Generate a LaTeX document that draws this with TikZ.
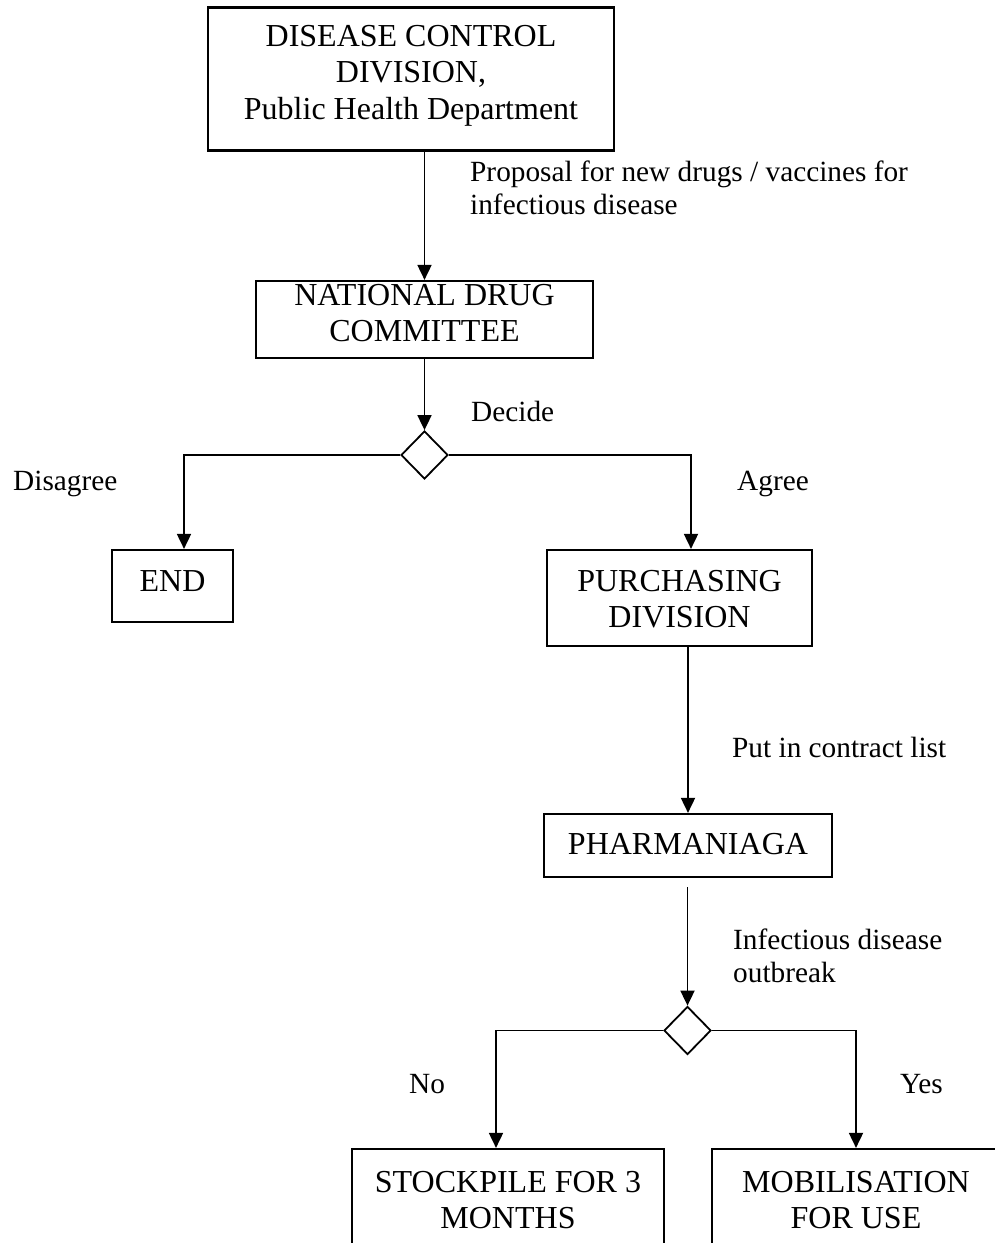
\documentclass[tikz,border=0pt]{standalone}
\usepackage{fontspec}
\setmainfont{Liberation Serif}
\usetikzlibrary{arrows.meta,shapes.geometric}
\tikzset{
  box/.style={draw, line width=2.2pt, rectangle, inner sep=0pt},
  boxtext/.style={font=\fontsize{32}{36.5}\selectfont, align=center, inner sep=0pt},
  lbl/.style={font=\fontsize{29.3}{33.5}\selectfont, align=left, anchor=west, inner sep=0pt},
  dec/.style={draw, line width=1.8pt, diamond, aspect=1, inner sep=0pt, minimum width=47pt, minimum height=48pt},
  conn/.style={line width=1.8pt},
  arr/.style={line width=1.8pt, -{Triangle[length=15pt,width=14pt]}}
}
\begin{document}
\begin{tikzpicture}[x=1pt,y=-1pt]
\clip (0,0) rectangle (995,1243);
\useasboundingbox (0,0) rectangle (995,1243);
% boxes
\node[box, minimum width=406pt, minimum height=143pt] (dcd) at (411,79) {};
\node[boxtext] (dcdt) at (411,75.5) {DISEASE CONTROL\\DIVISION,\\Public Health Department};
\node[box, minimum width=337pt, minimum height=77pt] (ndc) at (424.5,319.5) {};
\node[boxtext] (ndct) at (424.5,313) {NATIONAL DRUG\\COMMITTEE};
\node[dec] (d1) at (424.5,455) {};
\node[box, minimum width=121pt, minimum height=72pt] (endb) at (172.5,586) {};
\node[boxtext] (endt) at (172.5,581) {END};
\node[box, minimum width=265pt, minimum height=96pt] (pur) at (679.5,598) {};
\node[boxtext] (purt) at (679.5,599) {PURCHASING\\DIVISION};
\node[box, minimum width=288pt, minimum height=63pt] (pha) at (688,845.5) {};
\node[boxtext] (phat) at (688,844) {PHARMANIAGA};
\node[dec] (d2) at (687.5,1030.5) {};
\node[box, minimum width=312pt, minimum height=110pt] (stk) at (508,1204) {};
\node[boxtext] (stkt) at (508,1200) {STOCKPILE FOR 3\\MONTHS};
\node[box, minimum width=288pt, minimum height=110pt] (mob) at (856,1204) {};
\node[boxtext] (mobt) at (856,1200) {MOBILISATION\\FOR USE};
% labels
\node[lbl] (l1) at (470,188) {Proposal for new drugs / vaccines for\\infectious disease};
\node[lbl] (l2) at (471,411) {Decide};
\node[lbl] (l3) at (13,484) {Disagree};
\node[lbl] (l4) at (737,484) {Agree};
\node[lbl] (l5) at (732,747) {Put in contract list};
\node[lbl] (l6) at (733,956) {Infectious disease\\outbreak};
\node[lbl] (l7) at (409,1084) {No};
\node[lbl] (l8) at (900,1084) {Yes};
% coordinates
\coordinate (c1) at (184,455);
\coordinate (c2) at (691,455);
\coordinate (c3) at (496,1030.5);
\coordinate (c4) at (856,1030.5);
% connectors
\draw[arr] (dcd.south -| ndc.north) -- (ndc.north);
\draw[arr] (ndc.south -| d1.north) -- (d1.north);
\draw[arr] (d1.west) -- (c1) -- (c1 |- endb.north);
\draw[arr] (d1.east) -- (c2) -- (c2 |- pur.north);
\draw[arr] (pur.south -| pha.north) -- (pha.north);
\draw[arr] ([yshift=-9pt]pha.south -| d2.north) -- (d2.north);
\draw[arr] (d2.west) -- (c3) -- (c3 |- stk.north);
\draw[arr] (d2.east) -- (c4) -- (c4 |- mob.north);
\end{tikzpicture}
\end{document}
